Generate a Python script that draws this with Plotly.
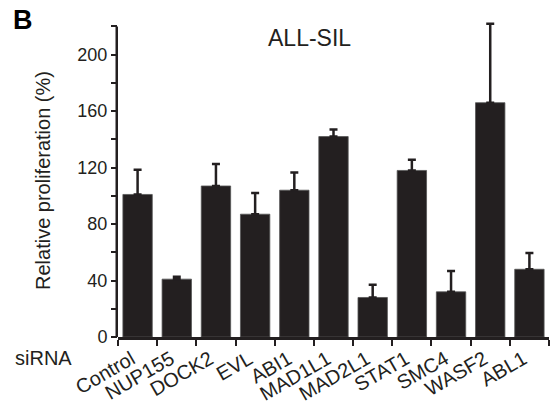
import plotly.graph_objects as go

categories = ["Control", "NUP155", "DOCK2", "EVL", "ABI1", "MAD1L1",
              "MAD2L1", "STAT1", "SMC4", "WASF2", "ABL1"]
values = [101, 41, 107, 87, 104, 142, 28, 118, 32, 166, 48]
errors_up = [17.5, 1.7, 15.5, 15, 12.5, 5, 9, 7.5, 14.7, 56, 11.5]
y_ticks = [0, 40, 80, 120, 160, 200]
y_axis_max = 220

FONT = "Arial, Liberation Sans, Helvetica, sans-serif"
INK = "#231f20"

L, R, T, B = 118, 1, 18, 69
W, H = 550, 406
pw, ph = W - L - R, H - T - B
Y_RANGE = [0, 226]

def px_x(x):
    return (x - L) / pw

def px_y(y):
    return (H - B - y) / ph

fig = go.Figure()
fig.add_trace(go.Bar(
    x=categories, y=values,
    marker=dict(color=INK, line=dict(color="#555555", width=0.8)),
    width=0.75,
    cliponaxis=False,
    error_y=dict(type="data", symmetric=False, array=errors_up,
                 arrayminus=[0] * len(values),
                 color=INK, thickness=2.5, width=4),
))

fig.update_layout(
    width=W, height=H,
    margin=dict(l=L, r=R, t=T, b=B, pad=0, autoexpand=False),
    paper_bgcolor="white", plot_bgcolor="white",
    showlegend=False,
    font=dict(family=FONT, color=INK),
    bargap=0.25,
)
fig.update_xaxes(
    type="category", range=[-0.5, len(categories) - 0.5],
    automargin=False,
    showline=True, linecolor=INK, linewidth=2.5,
    ticks="outside", tickson="boundaries", ticklen=6, tickwidth=2,
    tickcolor=INK, tickangle=-30, ticklabelshift=-6,
    tickfont=dict(size=20, family=FONT, color=INK),
    showgrid=False, zeroline=False,
)
fig.update_yaxes(
    range=Y_RANGE, tickvals=y_ticks,
    automargin=False,
    showline=False,
    ticks="outside", ticklen=6, tickwidth=2, tickcolor=INK,
    minor=dict(dtick=20, tick0=0, ticks="outside", ticklen=6,
               tickwidth=2, tickcolor=INK, showgrid=False),
    tickfont=dict(size=18, family=FONT, color=INK),
    showgrid=False, zeroline=False,
)

# y-axis line stopping at the axis maximum (error bar of WASF2 overshoots it)
fig.add_shape(type="line", xref="paper", yref="y",
              x0=-1.25 / pw, x1=-1.25 / pw, y0=0, y1=y_axis_max,
              line=dict(color=INK, width=2.5))

fig.add_annotation(text="Relative proliferation (%)", textangle=-90,
                   xref="paper", yref="paper", x=px_x(43), y=px_y(181),
                   xanchor="center", yanchor="middle", showarrow=False,
                   font=dict(size=20, family=FONT, color=INK))
fig.add_annotation(text="ALL-SIL", xref="paper", yref="paper",
                   x=px_x(309), y=px_y(38), xanchor="center", yanchor="middle",
                   showarrow=False, font=dict(size=23, family=FONT, color=INK))
fig.add_annotation(text="<b>B</b>", xref="paper", yref="paper",
                   x=px_x(23), y=px_y(20), xanchor="center", yanchor="middle",
                   showarrow=False, font=dict(size=27, family=FONT, color="#000000"))
fig.add_annotation(text="siRNA", xref="paper", yref="paper",
                   x=px_x(13), y=px_y(358), xanchor="left", yanchor="middle",
                   showarrow=False, font=dict(size=20, family=FONT, color=INK))

fig.write_html("out.html", config={"displayModeBar": False},
               post_script="document.body.style.margin='0';document.body.style.overflow='hidden';")
